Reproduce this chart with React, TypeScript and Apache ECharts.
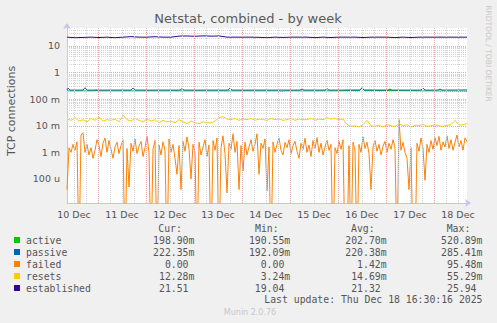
import React, { useEffect, useRef } from "react";
import * as echarts from "echarts";

// time axis: hours since Dec 10 00:00
const START_HOUR = 8.5; // Dec 10 08:30
const END_HOUR = 208.5; // Dec 18 16:30
const dayLabelHours = [12, 36, 60, 84, 108, 132, 156, 180, 204];
const dayLabels = ["10 Dec", "11 Dec", "12 Dec", "13 Dec", "14 Dec", "15 Dec", "16 Dec", "17 Dec", "18 Dec"];

const yMin = 1.25e-5;
const yMax = 47.5;
const yTickValues = [1e-4, 1e-3, 1e-2, 0.1, 1, 10];
const yTickLabels = ["100 u", "1 m", "10 m", "100 m", "1", "10"];

// failed (milli), hourly from START_HOUR
const failedMilli = [
  0.04, 1.5, 1.0, 2.0, 1.2, 2.5, 0, 4.5, 5.5, 1.0, 2.0, 0.8, 1.5, 0.6, 1.2, 3.0, 1.8, 0.7, 2.2, 3.5, 1.0, 2.8, 1.3, 0.6,
  1.6, 2.4, 0.9, 1.8, 3.0, 0, 1.4, 0.05, 2.2, 1.1, 3.2, 0.9, 1.7, 2.6, 0.7, 1.5, 4.0, 1.0, 0, 1.3, 2.8, 0, 1.9, 0.8,
  2.5, 1.2, 0, 3.2, 1.0, 2.0, 0.6, 0.15, 1.8, 0.04, 2.6, 1.1, 3.8, 1.4, 0.1, 2.0, 1.0, 0, 2.4, 0.8, 1.6, 3.0, 0.7, 1.9,
  0, 2.8, 1.2, 3.5, 0, 1.5, 4.2, 0.9, 0.03, 2.2, 1.3, 5.0, 1.0, 2.6, 0.04, 1.8, 0.2, 2.4, 0.8, 1.6, 3.0, 1.1, 2.0, 5.0,
  0.15, 2.2, 1.4, 3.2, 0.035, 1.6, 0, 2.5, 1.0, 2.0, 3.5, 1.2, 0.8, 2.4, 1.5, 3.0, 0.9, 1.8, 2.6, 1.1, 0.6, 2.2, 1.3, 3.4,
  1.0, 1.9, 0.7, 2.8, 1.4, 3.6, 1.0, 2.2, 0.8, 1.6, 2.9, 1.2, 2.0, 0, 1.5, 0.9, 2.6, 1.3, 3.0, 0, 0, 1.8, 0, 2.4,
  1.2, 0, 2.0, 1.0, 3.8, 1.4, 2.4, 0.9, 0.04, 1.6, 2.8, 1.1, 2.0, 0.8, 1.7, 2.6, 1.0, 2.2, 1.3, 3.0, 1.5, 0, 17, 1.2,
  2.4, 1.0, 0.6, 0.04, 1.5, 0, 0, 2.2, 1.1, 3.5, 1.4, 0.09, 2.0, 1.0, 2.8, 1.3, 3.6, 1.8, 4.0, 1.2, 2.5, 1.6, 4.2, 1.4,
  3.0, 1.2, 2.4, 4.5, 1.6, 2.8, 1.2, 3.5, 2.6,
];

// resets (milli), every 2 hours from START_HOUR
const resetsMilli = [
  18, 16, 20, 15, 17, 14, 19, 16, 21, 15, 17, 16,
  18, 14, 25, 17, 15, 19, 16, 14, 18, 15, 17, 13,
  16, 14, 15, 13, 17, 14, 12, 15, 13, 12, 14, 13,
  13, 15, 20, 22, 18, 17, 19, 16, 18, 17, 19, 16,
  18, 17, 16, 19, 17, 18, 16, 17, 19, 16, 18, 17,
  17, 19, 16, 18, 17, 20, 18, 19, 17, 18, 11, 9.5,
  10, 9, 11, 16, 10, 9.5, 10.5, 9, 11, 10, 9.5, 12,
  10, 11, 9, 10.5, 10, 11.5, 9.5, 10, 11, 10, 9.5, 10.5,
  11, 16, 10.5, 11, 12.3,
];

// established, every 4 hours from START_HOUR
const established = [
  21.5, 20.5, 21, 21.5, 20.8, 21.5, 20.5, 21.5, 22.5, 21.5, 21.5, 22.3, 21.5, 21.5, 23.5, 23.8, 23.2, 24, 23.5, 23.8,
  21.5, 21.5, 21.5, 21.5, 21.2, 20.5, 21.5, 21, 21.5, 21.5, 21.5, 20.6, 21.5, 20.8, 21.5, 21.5, 21.5, 20.8, 21.5, 21.5,
  21.5, 20.7, 21.5, 20.8, 21.5, 21.5, 21.5, 21.5, 21.5, 21.5, 21.5,
];

// passive: [hour, value]
const passivePts: [number, number][] = [
  [8.5, 0.22], [9, 0.26], [10, 0.22], [16.5, 0.22], [17.5, 0.27], [18.5, 0.22], [40.5, 0.22], [41.5, 0.26], [42.5, 0.22],
  [65, 0.22], [66, 0.25], [67, 0.22], [89, 0.22], [90, 0.26], [91, 0.22], [125, 0.22], [126, 0.24], [127, 0.22],
  [137.5, 0.22], [138.5, 0.25], [139.5, 0.22], [155, 0.22], [156, 0.27], [157, 0.22], [169, 0.22], [170, 0.24], [171, 0.22],
  [185.5, 0.22], [186.5, 0.26], [187.5, 0.22], [194, 0.22], [195, 0.24], [196, 0.22], [208.5, 0.222],
];

// active: [hour, value]
const activePts: [number, number][] = [
  [8.5, 0.205], [22, 0.205], [23, 0.22], [24, 0.205], [60, 0.205], [61, 0.21], [62, 0.205], [115, 0.205], [116, 0.195],
  [117, 0.205], [147, 0.205], [148, 0.215], [155, 0.215], [156, 0.26], [157, 0.215], [208.5, 0.199],
];

const legendNames = ["active", "passive", "failed", "resets", "established"];
const legendColors = ["#00CC00", "#0066B3", "#FF8000", "#FFCC00", "#330099"];
const curVals = ["198.90m", "222.35m", "0.00", "12.28m", "21.51"];
const minVals = ["190.55m", "192.09m", "0.00", "3.24m", "19.04"];
const avgVals = ["202.70m", "220.38m", "1.42m", "14.69m", "21.32"];
const maxVals = ["520.89m", "285.41m", "95.48m", "55.29m", "25.94"];
const lastUpdate = "Last update: Thu Dec 18 16:30:16 2025";

const ZERO_FLOOR = 1e-7;

export default function App() {
  const ref = useRef<HTMLDivElement>(null);
  useEffect(() => {
    if (!ref.current) return;
    const chart = echarts.init(ref.current, undefined, { renderer: "svg" });

    const failedData = failedMilli.map((v, i) => [START_HOUR + i, v === 0 ? ZERO_FLOOR : v / 1000]);
    const resetsData = resetsMilli.map((v, i) => [START_HOUR + 2 * i, v / 1000]);
    const estData = established.map((v, i) => [START_HOUR + 4 * i, v]);

    const gridMinor = { color: "#d4d4d4", width: 1, type: [1, 1] as any };
    const gridMajor = { color: "#eba8a8", width: 1, type: [1, 1] as any };
    const markData: any[] = [];
    for (let h = 12; h <= 204; h += 6) {
      markData.push({ xAxis: h, lineStyle: h % 24 === 0 ? gridMajor : gridMinor });
    }
    for (let k = -5; k <= 1; k++) {
      for (let m = 1; m <= 9; m++) {
        const v = m * Math.pow(10, k);
        if (v > yMin && v < yMax) markData.push({ yAxis: v, lineStyle: m === 1 ? gridMajor : gridMinor });
      }
    }

    const mono = '"DejaVu Sans Mono", monospace';
    const textColor = "#555555";
    const graphics: any[] = [
      {
        type: "text", x: 248, y: 18,
        style: { text: "Netstat, combined - by week", font: '13px "DejaVu Sans"', fill: "#5a5a5a", align: "center", verticalAlign: "middle" },
      },
      {
        type: "text", x: 11, y: 111, rotation: Math.PI / 2,
        style: { text: "TCP connections", font: '11px "DejaVu Sans"', fill: textColor, align: "center", verticalAlign: "middle" },
      },
      {
        type: "text", x: 488.5, y: 53.5, rotation: -Math.PI / 2,
        style: { text: "RRDTOOL / TOBI OETIKER", font: '7.5px "DejaVu Sans"', fill: "#c8c8c8", align: "center", verticalAlign: "middle" },
      },
      {
        type: "text", x: 250, y: 312,
        style: { text: "Munin 2.0.76", font: '8px "DejaVu Sans"', fill: "#c8c8c8", align: "center", verticalAlign: "middle" },
      },
      {
        type: "text", x: 482.5, y: 299,
        style: { text: lastUpdate, font: `9.8px ${mono}`, fill: textColor, align: "right", verticalAlign: "middle" },
      },
    ];
    const headers = [["Cur:", 158.3], ["Min:", 255], ["Avg:", 351], ["Max:", 446.7]] as const;
    headers.forEach(([t, x]) => {
      graphics.push({ type: "text", x, y: 228, style: { text: t, font: `9.8px ${mono}`, fill: textColor, align: "left", verticalAlign: "middle" } });
    });
    const cols: [string[], number][] = [[curVals, 188.5], [minVals, 284.3], [avgVals, 380.7], [maxVals, 476.5]];
    legendNames.forEach((name, i) => {
      const y = 240 + 12 * i;
      graphics.push({ type: "rect", shape: { x: 14, y: y - 3, width: 6, height: 6 }, style: { fill: legendColors[i] } });
      graphics.push({ type: "text", x: 26, y, style: { text: name, font: `9.8px ${mono}`, fill: textColor, align: "left", verticalAlign: "middle" } });
      cols.forEach(([vals, xr]) => {
        const s = vals[i];
        const hasUnit = /[a-z]$/i.test(s);
        const num = hasUnit ? s.slice(0, -1) : s;
        graphics.push({ type: "text", x: xr, y, style: { text: num, font: `9.8px ${mono}`, fill: textColor, align: "right", verticalAlign: "middle" } });
        if (hasUnit) {
          graphics.push({ type: "text", x: xr, y, style: { text: s.slice(-1), font: `9.8px ${mono}`, fill: textColor, align: "left", verticalAlign: "middle" } });
        }
      });
    });

    const lineSeries = (name: string, color: string, data: any[]) => ({
      name, type: "line", data, showSymbol: false, symbol: "none", silent: true, z: 3,
      lineStyle: { color, width: 1 }, itemStyle: { color }, clip: true, emphasis: { disabled: true },
    });

    chart.setOption({
      animation: false,
      backgroundColor: "#f0f0f0",
      grid: { left: 67, top: 28, width: 400, height: 175, show: true, backgroundColor: "#ffffff", borderWidth: 0 },
      xAxis: {
        type: "value", min: START_HOUR, max: END_HOUR,
        splitLine: { show: false }, axisTick: { show: false },
        axisLine: { show: true, lineStyle: { color: "#c4c4ee", width: 1 }, symbol: ["none", "arrow"], symbolSize: [6, 6], symbolOffset: [0, 4] },
        axisLabel: {
          customValues: dayLabelHours, margin: 6, color: textColor, fontSize: 9.5, fontFamily: "DejaVu Sans",
          formatter: (v: number) => { const i = dayLabelHours.indexOf(v); return i >= 0 ? dayLabels[i] : ""; },
        },
      },
      yAxis: {
        type: "log", logBase: 10, min: yMin, max: yMax,
        splitLine: { show: false }, axisTick: { show: false }, minorTick: { show: false },
        axisLine: { show: true, lineStyle: { color: "#c4c4ee", width: 1 }, symbol: ["none", "arrow"], symbolSize: [6, 6], symbolOffset: [0, 5] },
        axisLabel: {
          margin: 7, color: textColor, fontSize: 9.5, fontFamily: "DejaVu Sans",
          formatter: (v: number) => {
            const i = yTickValues.findIndex((t) => Math.abs(Math.log10(v) - Math.log10(t)) < 0.01);
            return i >= 0 ? yTickLabels[i] : "";
          },
        },
      },
      series: [
        {
          type: "line", data: [], silent: true, z: 1,
          markLine: { silent: true, symbol: ["none", "none"], label: { show: false }, emphasis: { disabled: true }, data: markData, animation: false },
        },
        lineSeries("active", legendColors[0], activePts),
        lineSeries("passive", legendColors[1], passivePts),
        lineSeries("failed", legendColors[2], failedData),
        lineSeries("resets", legendColors[3], resetsData),
        lineSeries("established", legendColors[4], estData),
      ],
      graphic: graphics,
    });
    return () => chart.dispose();
  }, []);
  return <div ref={ref} style={{ position: "absolute", left: 0, top: 0, width: 497, height: 323 }} />;
}
